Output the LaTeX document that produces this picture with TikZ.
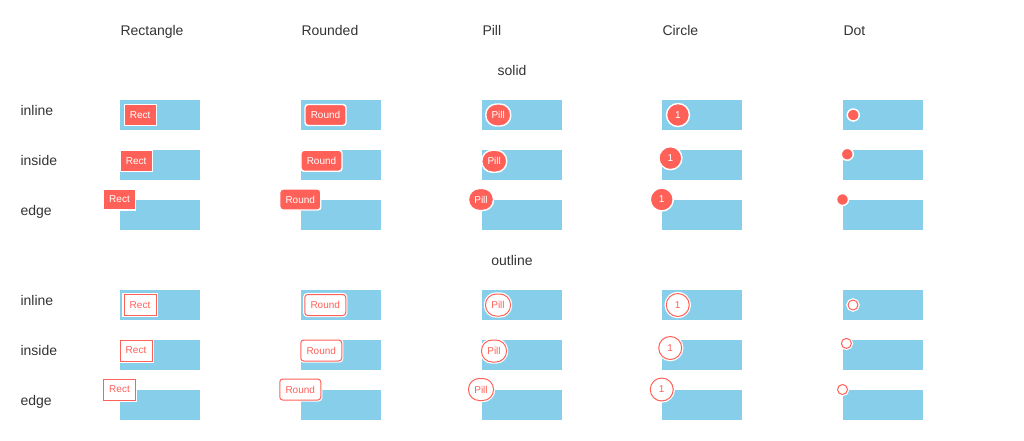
\documentclass[tikz,border=0pt]{standalone}
\usepackage{fontspec}
\setmainfont{Liberation Sans}
\usetikzlibrary{positioning}

\definecolor{sky}{HTML}{87CEEB}
\definecolor{badge}{HTML}{FF6159}
\definecolor{ink}{HTML}{333333}

\tikzset{every picture/.style={line width=0.75pt},
	card/.style={fill=sky, minimum width=60pt, minimum height=22.5pt, inner sep=0pt},
	head/.style={anchor=base west, inner sep=0pt, text=ink, font=\fontsize{10.5}{12}\selectfont},
	tagS/.style={fill=badge, draw=white, line width=1.1pt, text=white, inner sep=0pt, font=\fontsize{7.5}{9}\selectfont},
	tagO/.style={fill=white, draw=badge, line width=0.75pt, text=badge, inner sep=0pt, preaction={draw=white, line width=2.6pt}, font=\fontsize{7.5}{9}\selectfont},
	rectT/.style={rectangle, minimum width=24pt, minimum height=15.75pt},
	roundT/.style={rectangle, rounded corners=2.25pt, minimum width=30.75pt, minimum height=15.75pt},
	pillT/.style={rectangle, rounded corners=8pt, minimum width=18.75pt, minimum height=16.5pt},
	circT/.style={circle, minimum size=17.25pt},
	dotT/.style={circle, minimum size=9pt},
	dotO/.style={circle, minimum size=7.5pt}
}

\begin{document}
\begin{tikzpicture}[x=0.75pt,y=0.75pt,yscale=-1,xscale=1]
	\useasboundingbox (0,0) rectangle (1024,440);

	% Text Node
	\node[head] (hRect) at (120,35) {Rectangle};
	\node[head] (hRound) at (301,35) {Rounded};
	\node[head] (hPill) at (482,35) {Pill};
	\node[head] (hCirc) at (662,35) {Circle};
	\node[head] (hDot) at (843,35) {Dot};
	% Text Node
	\node[head, anchor=base] (hSolid) at (512,75) {solid};
	\node[head, anchor=base] (hOutline) at (512,265) {outline};
	% Text Node
	\node[head] (l1) at (20,115.5) {inline};
	\node[head] (l2) at (20,165.5) {inside};
	\node[head] (l3) at (20,215.5) {edge};
	\node[head] (l4) at (20,305.5) {inline};
	\node[head] (l5) at (20,355.5) {inside};
	\node[head] (l6) at (20,405.5) {edge};

	%Rectangle
	\node[card] (rect1) at (160,115) {};
	\node[tagS, rectT, right=3pt of rect1.west] (rect1b) {Rect};
	\node[card] (rect2) at (160,165) {};
	\node[tagS, rectT, anchor=north west] (rect2b) at (rect2.north west) {Rect};
	\node[card] (rect3) at (160,215) {};
	\node[tagS, rectT] (rect3b) at (rect3.north west) {Rect};
	\node[card] (rect4) at (160,305) {};
	\node[tagO, rectT, right=3pt of rect4.west] (rect4b) {Rect};
	\node[card] (rect5) at (160,355) {};
	\node[tagO, rectT, anchor=north west] (rect5b) at (rect5.north west) {Rect};
	\node[card] (rect6) at (160,405) {};
	\node[tagO, rectT] (rect6b) at (rect6.north west) {Rect};

	%Rounded
	\node[card] (round1) at (340.75,115) {};
	\node[tagS, roundT, right=3pt of round1.west] (round1b) {Round};
	\node[card] (round2) at (340.75,165) {};
	\node[tagS, roundT, anchor=north west] (round2b) at (round2.north west) {Round};
	\node[card] (round3) at (340.75,215) {};
	\node[tagS, roundT] (round3b) at (round3.north west) {Round};
	\node[card] (round4) at (340.75,305) {};
	\node[tagO, roundT, right=3pt of round4.west] (round4b) {Round};
	\node[card] (round5) at (340.75,355) {};
	\node[tagO, roundT, anchor=north west] (round5b) at (round5.north west) {Round};
	\node[card] (round6) at (340.75,405) {};
	\node[tagO, roundT] (round6b) at (round6.north west) {Round};

	%Pill
	\node[card] (pill1) at (521.5,115) {};
	\node[tagS, pillT, right=3pt of pill1.west] (pill1b) {Pill};
	\node[card] (pill2) at (521.5,165) {};
	\node[tagS, pillT, anchor=north west] (pill2b) at (pill2.north west) {Pill};
	\node[card] (pill3) at (521.5,215) {};
	\node[tagS, pillT] (pill3b) at (pill3.north west) {Pill};
	\node[card] (pill4) at (521.5,305) {};
	\node[tagO, pillT, right=3pt of pill4.west] (pill4b) {Pill};
	\node[card] (pill5) at (521.5,355) {};
	\node[tagO, pillT, anchor=north west] (pill5b) at (pill5.north west) {Pill};
	\node[card] (pill6) at (521.5,405) {};
	\node[tagO, pillT] (pill6b) at (pill6.north west) {Pill};

	%Circle
	\node[card] (circ1) at (702.25,115) {};
	\node[tagS, circT, right=3pt of circ1.west] (circ1b) {1};
	\node[card] (circ2) at (702.25,165) {};
	\node[tagS, circT, anchor=north west] (circ2b) at (circ2.north west) {1};
	\node[card] (circ3) at (702.25,215) {};
	\node[tagS, circT] (circ3b) at (circ3.north west) {1};
	\node[card] (circ4) at (702.25,305) {};
	\node[tagO, circT, right=3pt of circ4.west] (circ4b) {1};
	\node[card] (circ5) at (702.25,355) {};
	\node[tagO, circT, anchor=north west] (circ5b) at (circ5.north west) {1};
	\node[card] (circ6) at (702.25,405) {};
	\node[tagO, circT] (circ6b) at (circ6.north west) {1};

	%Dot
	\node[card] (dot1) at (883,115) {};
	\node[tagS, dotT, right=3pt of dot1.west] (dot1b) {};
	\node[card] (dot2) at (883,165) {};
	\node[tagS, dotT, anchor=north west] (dot2b) at (dot2.north west) {};
	\node[card] (dot3) at (883,215) {};
	\node[tagS, dotT] (dot3b) at (dot3.north west) {};
	\node[card] (dot4) at (883,305) {};
	\node[tagO, dotO, right=3.75pt of dot4.west] (dot4b) {};
	\node[card] (dot5) at (883,355) {};
	\node[tagO, dotO, anchor=north west] (dot5b) at (dot5.north west) {};
	\node[card] (dot6) at (883,405) {};
	\node[tagO, dotO] (dot6b) at (dot6.north west) {};

\end{tikzpicture}
\end{document}
